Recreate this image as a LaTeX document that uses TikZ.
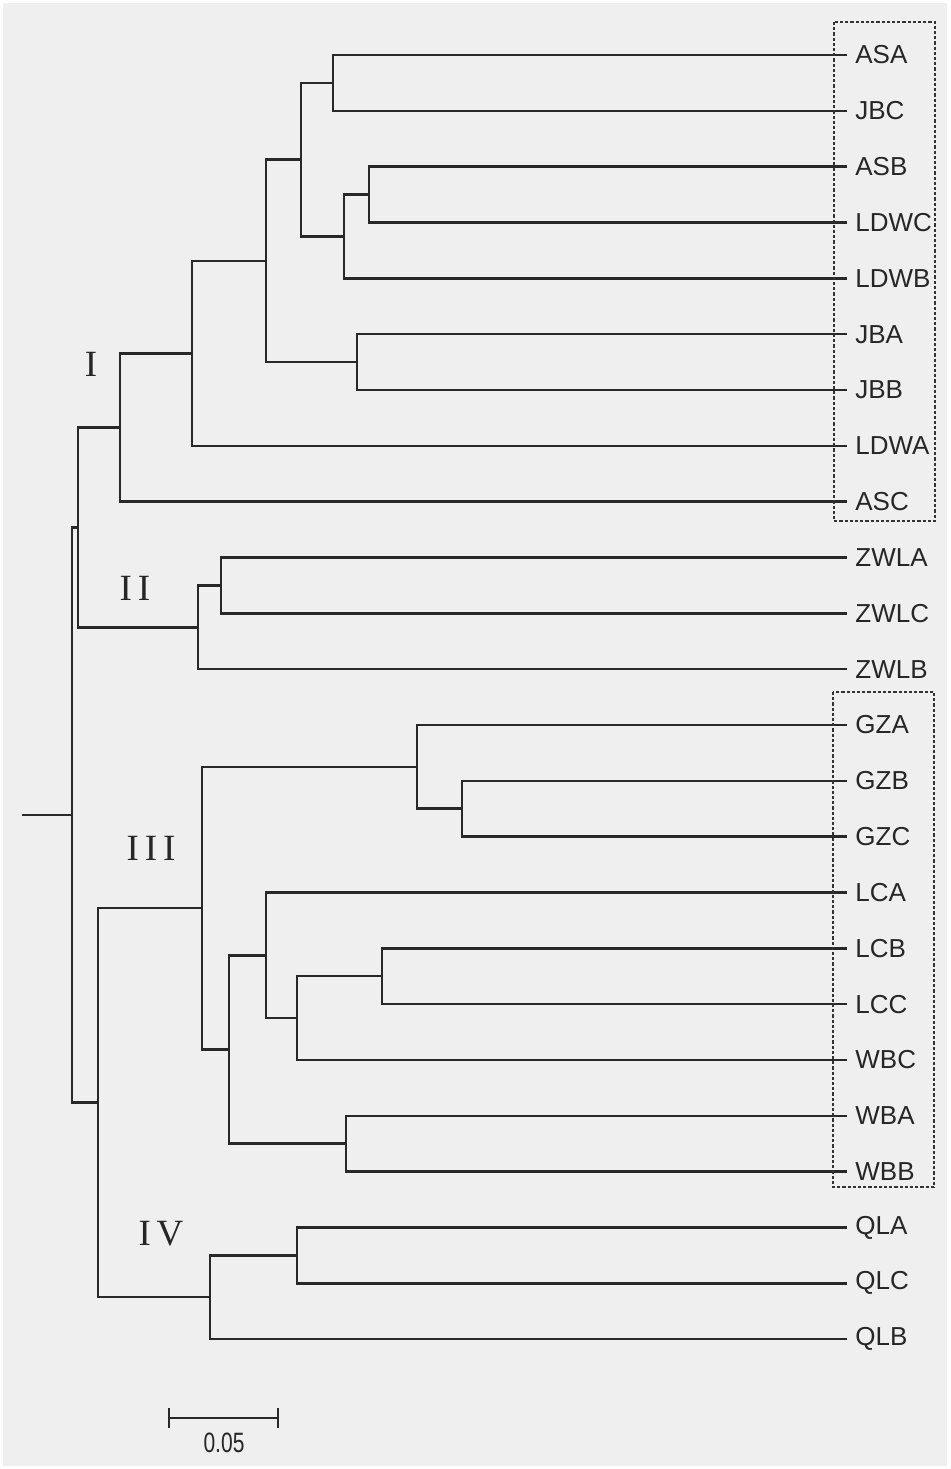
\documentclass[tikz,border=0pt]{standalone}
\usepackage{fontspec}
\setmainfont{Liberation Serif}
\newfontfamily\arialf{Liberation Sans}
\newfontfamily\romanf[LetterSpace=16]{Liberation Serif}
\definecolor{bggray}{RGB}{239,239,239}
\definecolor{branchcol}{RGB}{40,40,40}
\begin{document}
\begin{tikzpicture}[x=0.5pt,y=-0.5pt,
  branch/.style={draw=branchcol,line width=1.25pt,line cap=rect},
  leaf/.style={anchor=west,inner sep=4.5pt,font=\arialf\fontsize{13}{15}\selectfont,text=black!85},
  cladelabel/.style={inner sep=0pt,font=\romanf\fontsize{18.5}{20}\selectfont,text=black!85},
  groupbox/.style={draw=black!80,line width=0.6pt,dash pattern=on 1.6pt off 1pt}]
\useasboundingbox (0,0) rectangle (951,1469);
\fill[white] (0,0) rectangle (951,1469);
\fill[bggray] (3,3) rectangle (947,1466);
% leaves
\foreach \nm/\yy in {ASA/55.0,JBC/110.8,ASB/166.7,LDWC/222.5,LDWB/278.3,JBA/334.2,JBB/390.0,LDWA/445.8,ASC/501.6,ZWLA/557.5,ZWLC/613.3,ZWLB/669.1,GZA/725.0,GZB/780.8,GZC/836.6,LCA/892.5,LCB/948.3,LCC/1004.1,WBC/1059.9,WBA/1115.8,WBB/1171.6,QLA/1227.4,QLC/1283.3,QLB/1339.1}
  \node[leaf] (\nm) at (846,\yy) {\nm};
% internal nodes
\coordinate (a) at (333,82.9);
\coordinate (b) at (369,194.6);
\coordinate (c) at (344,236.45);
\coordinate (d) at (301,159.7);
\coordinate (e) at (357,362.1);
\coordinate (f) at (266,260.9);
\coordinate (g) at (192,353.35);
\coordinate (h) at (120,427.5);
\coordinate (i) at (221,585.4);
\coordinate (j) at (198,627.25);
\coordinate (k) at (78,527.4);
\coordinate (l) at (462,808.7);
\coordinate (m) at (417,766.85);
\coordinate (n) at (382,976.2);
\coordinate (o) at (297,1018.05);
\coordinate (p) at (266,955.3);
\coordinate (q) at (346,1143.7);
\coordinate (r) at (229,1049.5);
\coordinate (s) at (202,908.2);
\coordinate (t) at (297,1255.35);
\coordinate (u) at (210,1297.2);
\coordinate (v) at (98,1102.7);
\coordinate (root) at (72,815.05);
\coordinate (stub) at (23,815.05);
% branches
\draw[branch] (a) |- (ASA.west); \draw[branch] (a) |- (JBC.west);
\draw[branch] (b) |- (ASB.west); \draw[branch] (b) |- (LDWC.west);
\draw[branch] (c) |- (b); \draw[branch] (c) |- (LDWB.west);
\draw[branch] (d) |- (a); \draw[branch] (d) |- (c);
\draw[branch] (e) |- (JBA.west); \draw[branch] (e) |- (JBB.west);
\draw[branch] (f) |- (d); \draw[branch] (f) |- (e);
\draw[branch] (g) |- (f); \draw[branch] (g) |- (LDWA.west);
\draw[branch] (h) |- (g); \draw[branch] (h) |- (ASC.west);
\draw[branch] (i) |- (ZWLA.west); \draw[branch] (i) |- (ZWLC.west);
\draw[branch] (j) |- (i); \draw[branch] (j) |- (ZWLB.west);
\draw[branch] (k) |- (h); \draw[branch] (k) |- (j);
\draw[branch] (l) |- (GZB.west); \draw[branch] (l) |- (GZC.west);
\draw[branch] (m) |- (GZA.west); \draw[branch] (m) |- (l);
\draw[branch] (n) |- (LCB.west); \draw[branch] (n) |- (LCC.west);
\draw[branch] (o) |- (n); \draw[branch] (o) |- (WBC.west);
\draw[branch] (p) |- (LCA.west); \draw[branch] (p) |- (o);
\draw[branch] (q) |- (WBA.west); \draw[branch] (q) |- (WBB.west);
\draw[branch] (r) |- (p); \draw[branch] (r) |- (q);
\draw[branch] (s) |- (m); \draw[branch] (s) |- (r);
\draw[branch] (t) |- (QLA.west); \draw[branch] (t) |- (QLC.west);
\draw[branch] (u) |- (t); \draw[branch] (u) |- (QLB.west);
\draw[branch] (v) |- (s); \draw[branch] (v) |- (u);
\draw[branch] (root) |- (k); \draw[branch] (root) |- (v);
\draw[branch] (stub) -- (root);
% clade labels
\node[cladelabel] (cI) at (91,364) {I};
\node[cladelabel] (cII) at (135,588) {II};
\node[cladelabel] (cIII) at (151,848) {III};
\node[cladelabel] (cIV) at (161,1234) {IV};
% dashed boxes
\draw[groupbox] (834,22) rectangle (935,521);
\draw[groupbox] (833,692) rectangle (934,1187);
% scale bar
\coordinate (sb1) at (169,1418);
\coordinate (sb2) at (278,1418);
\draw[branch,line width=1pt,line cap=butt] (sb1) -- (sb2);
\draw[branch,line width=1pt,line cap=butt] ([yshift=5pt]sb1) -- ([yshift=-5pt]sb1);
\draw[branch,line width=1pt,line cap=butt] ([yshift=5pt]sb2) -- ([yshift=-5pt]sb2);
\node[inner sep=0pt,xscale=0.75,font=\arialf\fontsize{14}{16}\selectfont,text=black!85] (sblabel) at (224,1443) {0.05};
\end{tikzpicture}
\end{document}
